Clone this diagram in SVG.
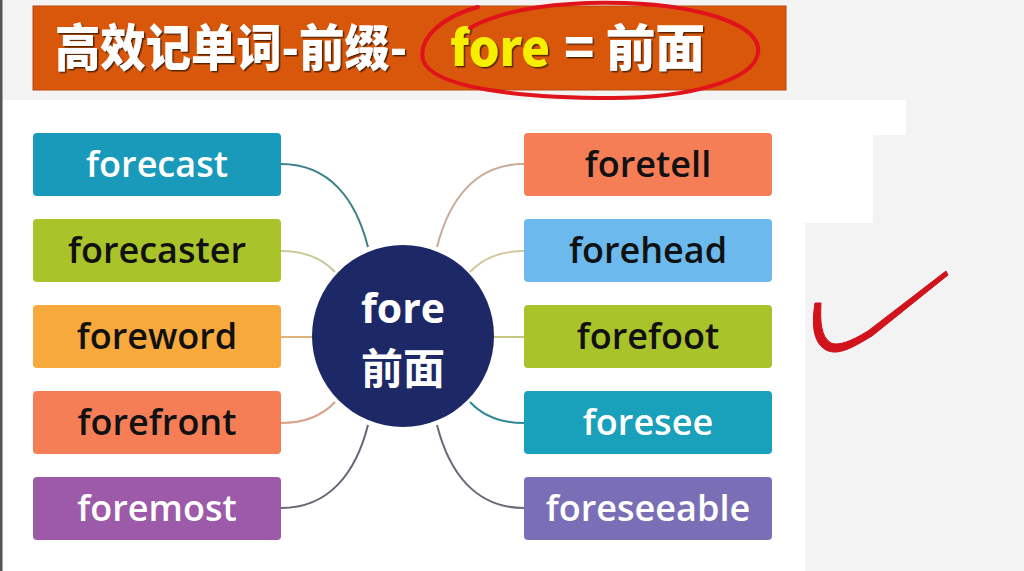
<svg xmlns="http://www.w3.org/2000/svg" width="1024" height="571" viewBox="0 0 1024 571">
  <defs>
    <style>
      .box { stroke: none; }
      .lbl { font-family: "Open Sans", "Noto Sans", sans-serif; font-weight: 600; font-size: 36px; text-anchor: middle; }
      .w { fill: #ffffff; }
      .k { fill: #111111; }
      .conn { fill: none; stroke-width: 2; }
      .title { font-family: "Noto Sans CJK SC", "Noto Sans", sans-serif; font-weight: 900; font-size: 50px; }
    </style>
    <filter id="tsh" x="-5%" y="-20%" width="110%" height="140%">
      <feDropShadow dx="1.5" dy="1.5" stdDeviation="0.6" flood-color="#4a1a00" flood-opacity="0.9"/>
    </filter>
  </defs>

  <!-- background -->
  <rect x="0" y="0" width="1024" height="571" fill="#f3f3f3"/>
  <polygon points="3,100 906,100 906,135 873,135 873,223 805,223 805,571 3,571" fill="#ffffff"/>
  <rect x="0" y="0" width="2.5" height="571" fill="#555555"/>

  <!-- title bar -->
  <g id="title">
    <rect x="33" y="6" width="753" height="84" fill="#d9570b" stroke="#b9480a" stroke-width="1"/>
    <text class="title" x="55" y="66" fill="#ffffff" textLength="352" lengthAdjust="spacingAndGlyphs" filter="url(#tsh)">高效记单词-前缀-</text>
    <text class="title" x="450" y="66" fill="#f7ef00" textLength="100" lengthAdjust="spacingAndGlyphs" filter="url(#tsh)">fore</text>
    <text class="title" x="564" y="66" fill="#ffffff" textLength="141" lengthAdjust="spacingAndGlyphs" filter="url(#tsh)">= 前面</text>
  </g>

  <!-- connectors -->
  <g id="connectors">
    <path class="conn" stroke="#3d7f88" d="M281,164 C330,164 356,200 368,247"/>
    <path class="conn" stroke="#c9c79a" d="M281,251 C305,251 322,258 335,272"/>
    <path class="conn" stroke="#dcb47c" d="M281,337 L313,337"/>
    <path class="conn" stroke="#d9a088" d="M281,423 C305,423 322,416 335,402"/>
    <path class="conn" stroke="#6b6475" d="M281,508 C330,508 356,472 368,425"/>
    <path class="conn" stroke="#c9ab98" d="M524,164 C475,164 449,200 437,247"/>
    <path class="conn" stroke="#d6c9a0" d="M524,251 C500,251 483,258 470,272"/>
    <path class="conn" stroke="#c8c884" d="M524,337 L493,337"/>
    <path class="conn" stroke="#2f8893" d="M524,423 C500,423 483,416 470,402"/>
    <path class="conn" stroke="#6a6a76" d="M524,508 C475,508 449,472 437,425"/>
  </g>

  <!-- center -->
  <g id="center">
    <circle cx="403" cy="336" r="91" fill="#1d2966"/>
    <text x="403" y="323" text-anchor="middle" font-family="Open Sans, Noto Sans, sans-serif" font-weight="700" font-size="41" fill="#ffffff">fore</text>
    <text x="403" y="384" text-anchor="middle" font-family="Noto Sans CJK SC, Noto Sans, sans-serif" font-weight="700" font-size="42" fill="#ffffff">前面</text>
  </g>

  <!-- left nodes -->
  <g id="n-forecast">
    <rect class="box" x="33" y="133" width="248" height="63" rx="4" fill="#1a9aba"/>
    <text class="lbl w" x="157" y="177">forecast</text>
  </g>
  <g id="n-forecaster">
    <rect class="box" x="33" y="219" width="248" height="63" rx="4" fill="#a9c32a"/>
    <text class="lbl k" x="157" y="263">forecaster</text>
  </g>
  <g id="n-foreword">
    <rect class="box" x="33" y="305" width="248" height="63" rx="4" fill="#f7a93b"/>
    <text class="lbl k" x="157" y="349">foreword</text>
  </g>
  <g id="n-forefront">
    <rect class="box" x="33" y="391" width="248" height="63" rx="4" fill="#f57e57"/>
    <text class="lbl k" x="157" y="435">forefront</text>
  </g>
  <g id="n-foremost">
    <rect class="box" x="33" y="477" width="248" height="63" rx="4" fill="#9c5aa8"/>
    <text class="lbl w" x="157" y="521">foremost</text>
  </g>

  <!-- right nodes -->
  <g id="n-foretell">
    <rect class="box" x="524" y="133" width="248" height="63" rx="4" fill="#f57e57"/>
    <text class="lbl k" x="648" y="177">foretell</text>
  </g>
  <g id="n-forehead">
    <rect class="box" x="524" y="219" width="248" height="63" rx="4" fill="#6cbaed"/>
    <text class="lbl k" x="648" y="263">forehead</text>
  </g>
  <g id="n-forefoot">
    <rect class="box" x="524" y="305" width="248" height="63" rx="4" fill="#a9c32a"/>
    <text class="lbl k" x="648" y="349">forefoot</text>
  </g>
  <g id="n-foresee">
    <rect class="box" x="524" y="391" width="248" height="63" rx="4" fill="#19a0ba"/>
    <text class="lbl w" x="648" y="435">foresee</text>
  </g>
  <g id="n-foreseeable">
    <rect class="box" x="524" y="477" width="248" height="63" rx="4" fill="#7a6fb6"/>
    <text class="lbl w" x="648" y="521">foreseeable</text>
  </g>

  <!-- red annotations -->
  <g id="annotations">
    <path d="M470,28 C505,8 565,1 625,3 C705,6 762,26 758,53 C754,80 690,98 612,98 C520,98 432,88 423,60 C418,38 442,17 478,7" fill="none" stroke="#e0121a" stroke-width="4" stroke-linecap="round"/>
    <path d="M815,303 C812,322 812,342 826,350 C838,356 852,348 872,336 L948,275 L946,271 L868,331 C850,342 838,346 831,343 C821,337 820,322 821,303 Z" fill="#d3131b" stroke="#c8121a" stroke-width="1" stroke-linejoin="round"/>
  </g>
</svg>
